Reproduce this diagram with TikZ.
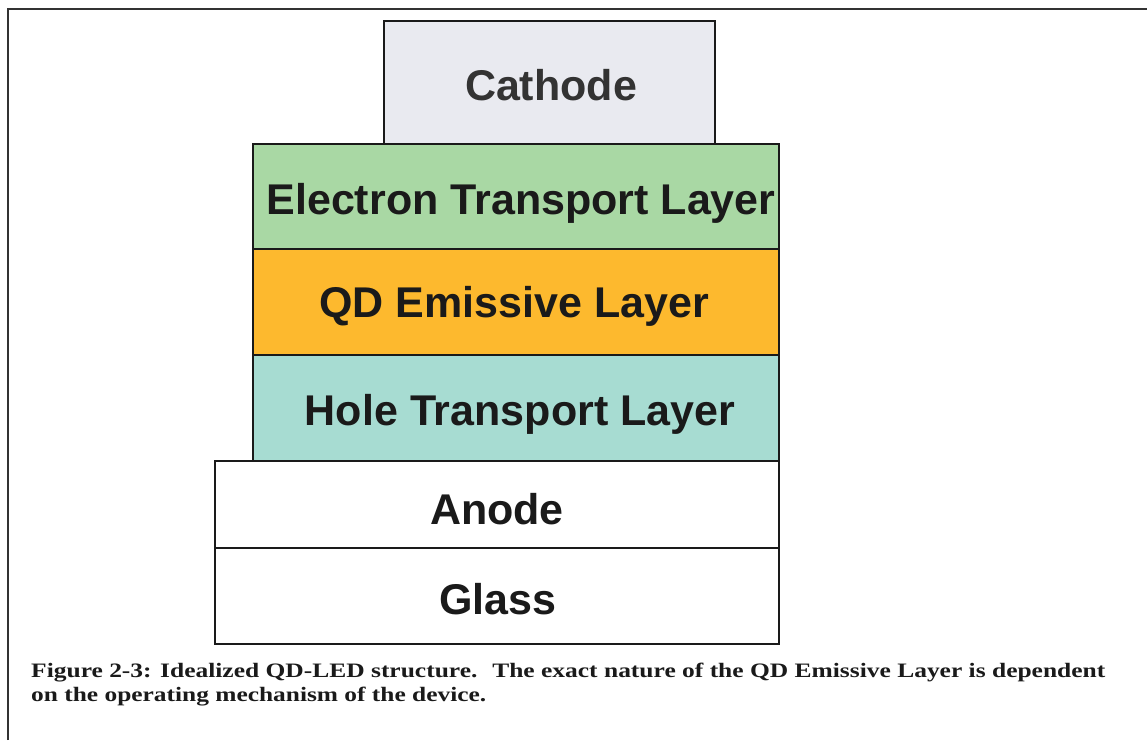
\documentclass[tikz,border=0pt]{standalone}
\usepackage{fontspec}
\usepackage{graphicx}
\setmainfont{Liberation Serif}
\newfontfamily\labelfont{Liberation Sans}
\definecolor{cathodefill}{HTML}{E9EAF0}
\definecolor{etlfill}{HTML}{A9D8A4}
\definecolor{qdfill}{HTML}{FDB92E}
\definecolor{htlfill}{HTML}{A7DCD2}
\definecolor{inkdark}{HTML}{1A1A1A}
\begin{document}
\begin{tikzpicture}[x=1pt,y=-1pt,
  layerbox/.style={draw=inkdark, line width=1.8pt, anchor=north west, inner sep=0pt},
  lbl/.style={anchor=base, inner sep=0pt, text=inkdark, font=\labelfont\bfseries\fontsize{43}{50}\selectfont},
  captext/.style={anchor=base west, inner sep=0pt, text=inkdark, font=\bfseries\fontsize{20.5}{24}\selectfont}]
\useasboundingbox (0,0) rectangle (1147,740);
\fill[white] (0,0) rectangle (1147,740);
\draw[line width=2pt, black!80] (8,740) -- (8,9) -- (1147,9);
% layers
\node[layerbox, fill=white, minimum width=564pt, minimum height=96pt] (glass) at (214,547) {};
\node[layerbox, fill=white, minimum width=564pt, minimum height=87pt] (anode) at (214,460) {};
\node[layerbox, fill=htlfill, minimum width=526pt, minimum height=106pt] (htl) at (252,354) {};
\node[layerbox, fill=qdfill, minimum width=526pt, minimum height=106pt] (qd) at (252,248) {};
\node[layerbox, fill=etlfill, minimum width=526pt, minimum height=105pt] (etl) at (252,143) {};
\node[layerbox, fill=cathodefill, minimum width=331pt, minimum height=123pt] (cathode) at (383,20) {};
% labels
\node[lbl, text=black!80] (cathodeT) at (551,100) {Cathode};
\node[lbl] (etlT) at (521,214) {Electron Transport Layer};
\node[lbl] (qdT) at (514,317) {QD Emissive Layer};
\node[lbl] (htlT) at (520,425) {Hole Transport Layer};
\node[lbl] (anodeT) at (497,524) {Anode};
\node[lbl] (glassT) at (498,614) {Glass};
% caption
\node[captext] (cap1) at (31,677) {\resizebox{1074pt}{\height}{Figure 2-3: Idealized QD-LED structure.~ The exact nature of the QD Emissive Layer is dependent}};
\node[captext] (cap2) at (31,701) {\resizebox{455pt}{\height}{on the operating mechanism of the device.}};
\end{tikzpicture}
\end{document}
